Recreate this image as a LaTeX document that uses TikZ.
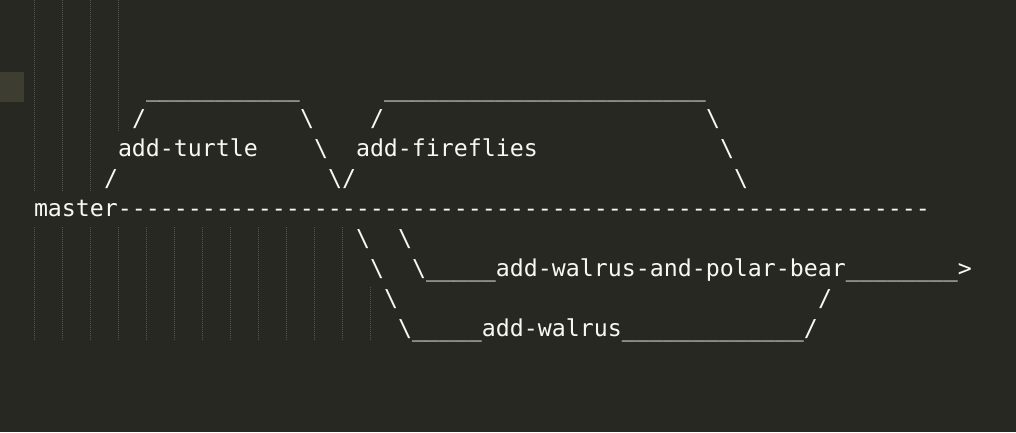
\documentclass[tikz,border=0pt]{standalone}
\usepackage{fontspec}
\setmonofont{DejaVu Sans Mono}
\definecolor{bg}{HTML}{272822}
\definecolor{fg}{HTML}{F8F8F2}
\definecolor{gutter}{HTML}{3E3D32}
\definecolor{guidec}{HTML}{55554B}
\newcommand{\bs}{\textbackslash}
\newcommand{\us}{\_}
\begin{document}
\begin{tikzpicture}[x=1pt,y=-1pt,
  txt/.style={anchor=base west, inner sep=0pt, outer sep=0pt, text=fg,
    font=\ttfamily\fontsize{23.25}{30}\selectfont},
  guide/.style={draw=guidec, line width=1pt, dash pattern=on 1pt off 1pt}]
\fill[bg] (0,0) rectangle (1016,432);
\useasboundingbox (0,0) rectangle (1016,432);
\fill[gutter] (0,72) rectangle (24,102);
% indent guides
\foreach \x in {34,62,90} \draw[guide] (\x+0.5,0) -- (\x+0.5,191);
\draw[guide] (118.5,0) -- (118.5,131);
\foreach \k in {0,...,11} \draw[guide] ({34.5+28*\k},227) -- ({34.5+28*\k},341);
\draw[guide] (370.5,287) -- (370.5,341);
% row 0
\node[txt] (r0a) at ({34+14*8},96) {\us\us\us\us\us\us\us\us\us\us\us};
\node[txt] (r0b) at ({34+14*25},96) {\us\us\us\us\us\us\us\us\us\us\us\us\us\us\us\us\us\us\us\us\us\us\us};
% row 1
\node[txt] (r1a) at ({34+14*7},126) {/};
\node[txt] (r1b) at ({34+14*19},126) {\bs};
\node[txt] (r1c) at ({34+14*24},126) {/};
\node[txt] (r1d) at ({34+14*48},126) {\bs};
% row 2
\node[txt] (turtle) at ({34+14*6},156) {add-turtle};
\node[txt] (r2b) at ({34+14*20},156) {\bs};
\node[txt] (fireflies) at ({34+14*23},156) {add-fireflies};
\node[txt] (r2d) at ({34+14*49},156) {\bs};
% row 3
\node[txt] (r3a) at ({34+14*5},186) {/};
\node[txt] (r3b) at ({34+14*21},186) {\bs/};
\node[txt] (r3c) at ({34+14*50},186) {\bs};
% row 4
\node[txt] (master) at (34,216) {master----------------------------------------------------------};
% row 5
\node[txt] (r5a) at ({34+14*23},246) {\bs};
\node[txt] (r5b) at ({34+14*26},246) {\bs};
% row 6
\node[txt] (r6a) at ({34+14*24},276) {\bs};
\node[txt] (polar) at ({34+14*27},276) {\bs\us\us\us\us\us add-walrus-and-polar-bear\us\us\us\us\us\us\us\us>};
% row 7
\node[txt] (r7a) at ({34+14*25},306) {\bs};
\node[txt] (r7b) at ({34+14*56},306) {/};
% row 8
\node[txt] (walrus) at ({34+14*26},336) {\bs\us\us\us\us\us add-walrus\us\us\us\us\us\us\us\us\us\us\us\us\us/};
\end{tikzpicture}
\end{document}
